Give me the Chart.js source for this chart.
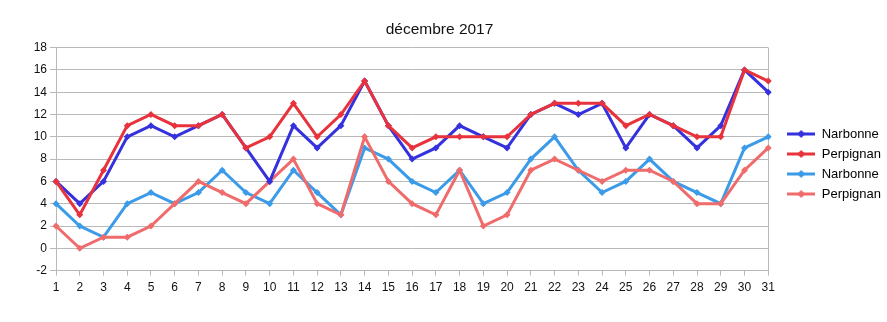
<!DOCTYPE html>
<html>
<head>
<meta charset="utf-8">
<script src="https://cdn.jsdelivr.net/npm/chart.js@4"></script>
<style>
  html, body { margin: 0; padding: 0; background: #fff; }
  #chart { display: block; }
</style>
</head>
<body>
<canvas id="chart" width="887" height="322"></canvas>
<script>
/* =====================================================
   Data
===================================================== */
const days = Array.from({ length: 31 }, (_, i) => String(i + 1));

const narbonneMax  = [6, 4, 6, 10, 11, 10, 11, 12, 9, 6, 11, 9, 11, 15, 11, 8, 9, 11, 10, 9, 12, 13, 12, 13, 9, 12, 11, 9, 11, 16, 14];
const perpignanMax = [6, 3, 7, 11, 12, 11, 11, 12, 9, 10, 13, 10, 12, 15, 11, 9, 10, 10, 10, 10, 12, 13, 13, 13, 11, 12, 11, 10, 10, 16, 15];
const narbonneMin  = [4, 2, 1, 4, 5, 4, 5, 7, 5, 4, 7, 5, 3, 9, 8, 6, 5, 7, 4, 5, 8, 10, 7, 5, 6, 8, 6, 5, 4, 9, 10];
const perpignanMin = [2, 0, 1, 1, 2, 4, 6, 5, 4, 6, 8, 4, 3, 10, 6, 4, 3, 7, 2, 3, 7, 8, 7, 6, 7, 7, 6, 4, 4, 7, 9];

const yMin = -2;
const yMax = 18;

const GRID = '#b9b9b9';
const FONT = 'Liberation Sans, Arial, sans-serif';

/* =====================================================
   Legend symbol: short line with a diamond
===================================================== */
function legendSymbol(color) {
  const c = document.createElement('canvas');
  c.width = 28; c.height = 10;
  const g = c.getContext('2d');
  g.strokeStyle = color;
  g.lineWidth = 3;
  g.beginPath(); g.moveTo(0, 5); g.lineTo(28, 5); g.stroke();
  g.fillStyle = color;
  g.beginPath();
  g.moveTo(14, 1); g.lineTo(18, 5); g.lineTo(14, 9); g.lineTo(10, 5);
  g.closePath(); g.fill();
  return c;
}

function series(label, data, color, order) {
  return {
    label: label,
    data: data,
    borderColor: color,
    backgroundColor: color,
    borderWidth: 3,
    pointStyle: 'rectRot',
    pointRadius: 3.5,
    pointHoverRadius: 3.5,
    pointBorderWidth: 0,
    tension: 0,
    order: order,
    legendSymbol: legendSymbol(color)
  };
}

// nudge the legend to where the reference puts it
const legendNudge = {
  id: 'legendNudge',
  afterLayout(chart) {
    const lg = chart.legend;
    lg.left += 12; lg.right += 12;
    lg.top += 12; lg.bottom += 12;
  }
};

new Chart(document.getElementById('chart'), {
  type: 'line',
  data: {
    labels: days,
    datasets: [
      series('Narbonne', narbonneMax, '#3531dd', 2),
      series('Perpignan', perpignanMax, '#e8323c', 1),
      series('Narbonne', narbonneMin, '#3c9be8', 4),
      series('Perpignan', perpignanMin, '#f06b6b', 3)
    ]
  },
  plugins: [legendNudge],
  options: {
    responsive: false,
    animation: false,
    events: [],
    layout: { padding: { left: 0, right: 8, top: 4, bottom: 22 } },
    plugins: {
      title: {
        display: true,
        text: 'décembre 2017',
        color: '#111',
        font: { family: FONT, size: 15.5, weight: 'normal' },
        padding: { top: 16, bottom: 9 }
      },
      legend: {
        position: 'right',
        labels: {
          usePointStyle: true,
          pointStyleWidth: 28,
          boxHeight: 10,
          padding: 7,
          color: '#111',
          font: { family: FONT, size: 13 },
          sort: (a, b) => a.datasetIndex - b.datasetIndex,
          generateLabels: chart => chart.data.datasets.map((ds, i) => ({
            text: ds.label,
            pointStyle: ds.legendSymbol,
            fillStyle: ds.borderColor,
            strokeStyle: ds.borderColor,
            lineWidth: 0,
            datasetIndex: i,
            hidden: false
          }))
        }
      },
      tooltip: { enabled: false }
    },
    scales: {
      x: {
        offset: false,
        grid: {
          drawOnChartArea: true,
          color: ctx => ctx.index === days.length - 1 ? GRID : 'rgba(0,0,0,0)',
          tickColor: GRID,
          tickLength: 5
        },
        border: { color: GRID },
        ticks: {
          color: '#111',
          font: { family: FONT, size: 12 },
          maxRotation: 0,
          autoSkip: false,
          padding: 5
        }
      },
      y: {
        min: yMin,
        max: yMax,
        afterFit: scale => { scale.width = 56; },
        grid: {
          color: GRID,
          tickColor: ctx => (ctx.tick && ctx.tick.value % 2 === 0) ? GRID : 'rgba(0,0,0,0)',
          tickLength: 6
        },
        border: { color: GRID },
        ticks: {
          stepSize: 1,
          color: '#111',
          font: { family: FONT, size: 12 },
          padding: 3,
          callback: v => (v % 2 === 0 ? v : '')
        }
      }
    }
  }
});
</script>
</body>
</html>
